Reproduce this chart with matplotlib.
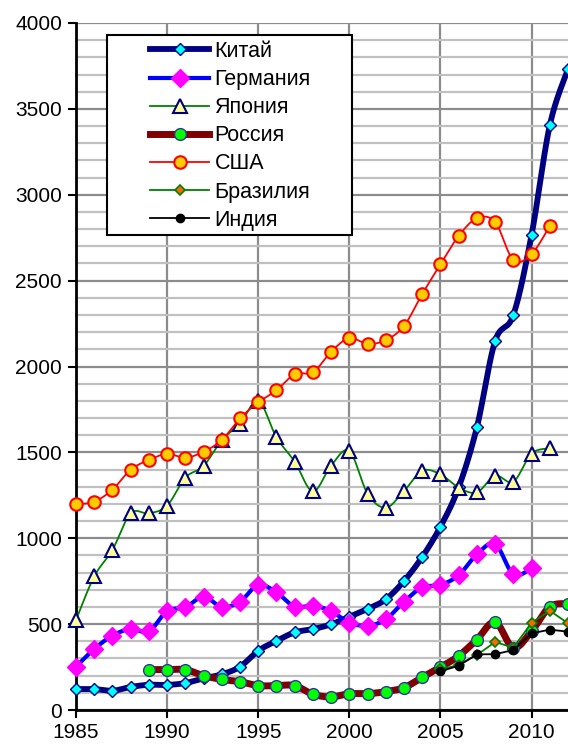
import numpy as np
import matplotlib
matplotlib.use("Agg")
import matplotlib.pyplot as plt
from matplotlib.lines import Line2D
from matplotlib.patches import Rectangle

plt.rcParams['font.family'] = ['Liberation Sans', 'DejaVu Sans']

years_china = list(range(1985, 2013))
china = [122, 122, 112, 134, 147, 146, 157, 184, 208, 252, 345, 402, 452, 471,
         499, 543, 588, 644, 751, 891, 1067, 1296, 1646, 2148, 2300, 2766, 3404, 3732]

years_germany = list(range(1985, 2011))
germany = [252, 355, 433, 472, 458, 576, 598, 660, 600, 631, 728, 685, 602, 607,
           576, 508, 491, 528, 631, 714, 728, 785, 906, 967, 790, 825]

years_japan = list(range(1985, 2012))
japan = [524, 778, 932, 1145, 1145, 1190, 1353, 1421, 1572, 1667, 1800, 1588, 1446,
         1273, 1423, 1508, 1260, 1178, 1275, 1393, 1372, 1295, 1267, 1364, 1329, 1493, 1524]

years_russia = list(range(1989, 2013))
russia = [235, 235, 235, 200, 178, 165, 142, 142, 142, 92, 76, 95, 95, 107, 130,
          190, 249, 315, 410, 512, 362, 459, 601, 619]

years_usa = list(range(1985, 2012))
usa = [1198, 1213, 1283, 1399, 1456, 1491, 1469, 1504, 1572, 1698, 1791, 1861, 1956,
       1966, 2086, 2166, 2131, 2154, 2236, 2422, 2595, 2760, 2863, 2841, 2620, 2655, 2818]

years_brazil = list(range(2005, 2013))
brazil = [237, 262, 320, 396, 363, 508, 578, 505]

years_india = list(range(2005, 2013))
india = [225, 258, 324, 325, 349, 446, 468, 456]

labels = ['Китай', 'Германия', 'Япония', 'Россия', 'США', 'Бразилия', 'Индия']


def smooth(xs, ys, n=20):
    P = np.column_stack([xs, ys]).astype(float)
    m = len(P)
    if m < 3:
        return P[:, 0], P[:, 1]
    out = []
    t = np.linspace(0, 1, n, endpoint=False)
    for i in range(m - 1):
        p0 = P[i - 1] if i > 0 else P[i]
        p1 = P[i]
        p2 = P[i + 1]
        p3 = P[i + 2] if i + 2 < m else P[i + 1]
        c1 = p1 + (p2 - p0) / 6.0
        c2 = p2 - (p3 - p1) / 6.0
        tt = t[:, None]
        seg = ((1 - tt) ** 3) * p1 + 3 * ((1 - tt) ** 2) * tt * c1 + 3 * (1 - tt) * tt ** 2 * c2 + tt ** 3 * p2
        out.append(seg)
    out.append(P[-1][None, :])
    out = np.vstack(out)
    return out[:, 0], out[:, 1]


fig = plt.figure(figsize=(5.68, 7.47), dpi=100)
ax = fig.add_axes([76 / 568, 1 - 710 / 747, 1 - 76 / 568, (710 - 23) / 747])

ax.set_xlim(1985, 2012)
ax.set_ylim(0, 4000)

# grid
ax.set_yticks(np.arange(0, 4001, 500))
ax.set_yticks(np.arange(0, 4001, 100), minor=True)
ax.set_xticks(np.arange(1985, 2013, 5))
ax.grid(which='minor', axis='y', color='#c0c0c0', linewidth=1.6, zorder=0)
ax.grid(which='major', axis='y', color='#8c8c8c', linewidth=1.6, zorder=0)
ax.grid(which='major', axis='x', color='#8c8c8c', linewidth=1.6, zorder=0)
ax.set_axisbelow(True)
ax.tick_params(axis='y', which='minor', length=0)
ax.tick_params(axis='both', which='major', direction='out', length=6, width=1.5,
               labelsize=15, colors='black')
ax.tick_params(axis='y', pad=4)
ax.tick_params(axis='x', pad=3)
for s in ['top', 'right']:
    ax.spines[s].set_visible(False)
for s in ['left', 'bottom']:
    ax.spines[s].set_linewidth(2)
    ax.spines[s].set_color('black')

styles = [
    dict(color='#000080', lw=4.2, marker='D', ms=6.5, mfc='#00ffff', mec='#000080', mew=1.0, smooth=True),
    dict(color='#0000ff', lw=3.0, marker='D', ms=9, mfc='#ff00ff', mec='#ff00ff', mew=1.0, smooth=True),
    dict(color='#008000', lw=1.3, marker='^', ms=10, mfc='#ffff99', mec='#000080', mew=1.5, smooth=True),
    dict(color='#800000', lw=5.0, marker='o', ms=8.5, mfc='#00ff00', mec='#333399', mew=1.0, smooth=True),
    dict(color='#ff0000', lw=1.3, marker='o', ms=9, mfc='#ffcc00', mec='#ff0000', mew=1.5, smooth=True),
    dict(color='#008000', lw=1.3, marker='D', ms=5.5, mfc='#ff6600', mec='#008000', mew=1.2, smooth=False),
    dict(color='#000000', lw=1.3, marker='o', ms=6, mfc='#000000', mec='#000000', mew=1.0, smooth=False),
]
series = [(years_china, china), (years_germany, germany), (years_japan, japan),
          (years_russia, russia), (years_usa, usa), (years_brazil, brazil),
          (years_india, india)]

handles = []
for k, ((xs, ys), st) in enumerate(zip(series, styles)):
    z = 3 + k
    if st['smooth']:
        sx, sy = smooth(xs, ys)
    else:
        sx, sy = xs, ys
    ax.plot(sx, sy, color=st['color'], lw=st['lw'], zorder=z, clip_on=False,
            solid_capstyle='round', solid_joinstyle='round')
    ax.plot(xs, ys, linestyle='none', marker=st['marker'], ms=st['ms'], mfc=st['mfc'],
            mec=st['mec'], mew=st['mew'], zorder=z, clip_on=False)
    handles.append(Line2D([0], [0], color=st['color'], lw=st['lw'], marker=st['marker'],
                          ms=st['ms'], mfc=st['mfc'], mec=st['mec'], mew=st['mew']))

# legend frame
fig.patches.append(Rectangle((107 / 568, 1 - 235 / 747), (352 - 107) / 568, 200 / 747,
                             transform=fig.transFigure, facecolor='white',
                             edgecolor='black', linewidth=1.5, zorder=10))
leg = fig.legend(handles, labels, loc='upper left',
                 bbox_to_anchor=(150 / 568, 1 - 41 / 747), frameon=False,
                 fontsize=15.5, handlelength=2.75, handletextpad=0.25,
                 labelspacing=0.33, borderpad=0, borderaxespad=0, numpoints=1)
leg.set_zorder(11)

fig.savefig('out.png', dpi=100)
